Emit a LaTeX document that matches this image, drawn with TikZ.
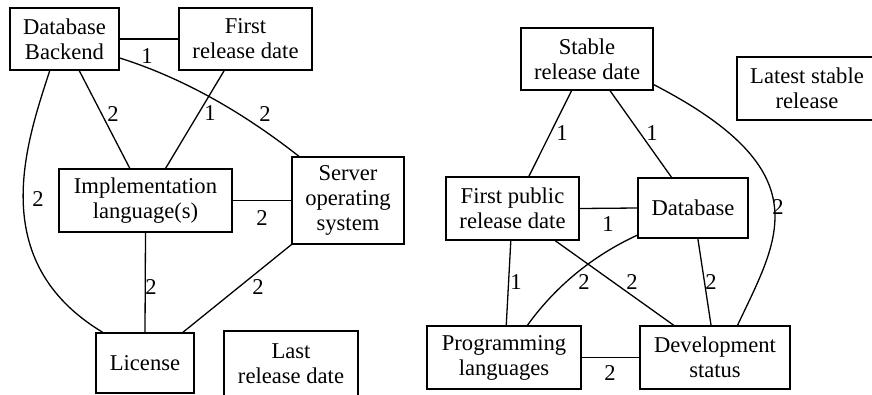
\documentclass[tikz,border=0pt]{standalone}
\usepackage{fontspec}
\setmainfont{Liberation Serif}
\newfontfamily\diagfont{Liberation Serif}
\begin{document}
\begin{tikzpicture}[x=1pt,y=-1pt,
  box/.style={draw, line width=1.3pt, inner sep=0pt, align=center, font=\diagfont\fontsize{22.6}{25}\selectfont},
  lbl/.style={inner sep=0pt, font=\diagfont\fontsize{22.6}{25}\selectfont},
  edge/.style={line width=1.3pt}]
\useasboundingbox (0,0) rectangle (872,394);
% left graph
\node[box, minimum width=109pt, minimum height=62pt] (dbb) at (64.5,39) {Database\\Backend};
\node[box, minimum width=133pt, minimum height=62pt] (frd) at (245.5,39) {First\\release date};
\node[box, minimum width=173pt, minimum height=63pt] (impl) at (145.5,200.5) {Implementation\\language(s)};
\node[box, minimum width=112pt, minimum height=87pt] (srv) at (348,200.5) {Server\\operating\\system};
\node[box, minimum width=98pt, minimum height=60pt] (lic) at (145,363) {License};
\node[box, minimum width=134pt, minimum height=65pt] (lrd) at (291,363.5) {Last\\release date};
% right graph
\node[box, minimum width=132pt, minimum height=62pt] (srd) at (587,59) {Stable\\release date};
\node[box, minimum width=140pt, minimum height=63pt] (lsr) at (807,88.5) {Latest stable\\release};
\node[box, minimum width=133pt, minimum height=63pt] (fprd) at (512.5,208.5) {First public\\release date};
\node[box, minimum width=110pt, minimum height=60pt] (db) at (693,208) {Database};
\node[box, minimum width=154pt, minimum height=63pt] (pl) at (504,357.5) {Programming\\languages};
\node[box, minimum width=150pt, minimum height=63pt] (ds) at (715,357.5) {Development\\status};
% left edges
\draw[edge] (dbb.east) -- (frd.west);
\draw[edge] (dbb.295) -- (impl.116);
\draw[edge] (frd.236.5) -- (impl.58.2);
\draw[edge] (dbb.341) .. controls (180,77) and (240,110) .. (srv.138);
\draw[edge] (dbb.245) .. controls (27,141) and (-16,261) .. (lic.144);
\draw[edge] (impl.east) -- (srv.west);
\draw[edge] (impl.south) -- (lic.north);
\draw[edge] (srv.south west) -- (lic.39);
% right edges
\draw[edge] (srd.244.2) -- (fprd.63.8);
\draw[edge] (srd.306.6) -- (db.125);
\draw[edge] (srd.339) .. controls (823,172) and (778,239) .. (ds.55);
\draw[edge] (fprd.east) -- (db.west);
\draw[edge] (fprd.267.3) -- (pl.86.4);
\draw[edge] (fprd.323.5) -- (ds.142.5);
\draw[edge] (db.206) .. controls (592,256) and (555,287) .. (pl.54);
\draw[edge] (db.279.5) -- (ds.97.2);
\draw[edge] (pl.east) -- (ds.west);
% labels left
\node[lbl] (l1) at (147,56) {1};
\node[lbl] (l2) at (113,114) {2};
\node[lbl] (l3) at (210,113) {1};
\node[lbl] (l4) at (265,114) {2};
\node[lbl] (l5) at (38,199) {2};
\node[lbl] (l6) at (262,218) {2};
\node[lbl] (l7) at (151,287) {2};
\node[lbl] (l8) at (258,287) {2};
% labels right
\node[lbl] (r1) at (562,133) {1};
\node[lbl] (r2) at (652,133) {1};
\node[lbl] (r3) at (778,207) {2};
\node[lbl] (r4) at (608,224) {1};
\node[lbl] (r5) at (516,282) {1};
\node[lbl] (r6) at (584,282) {2};
\node[lbl] (r7) at (632,282) {2};
\node[lbl] (r8) at (711,282) {2};
\node[lbl] (r9) at (610,373) {2};
\end{tikzpicture}
\end{document}
